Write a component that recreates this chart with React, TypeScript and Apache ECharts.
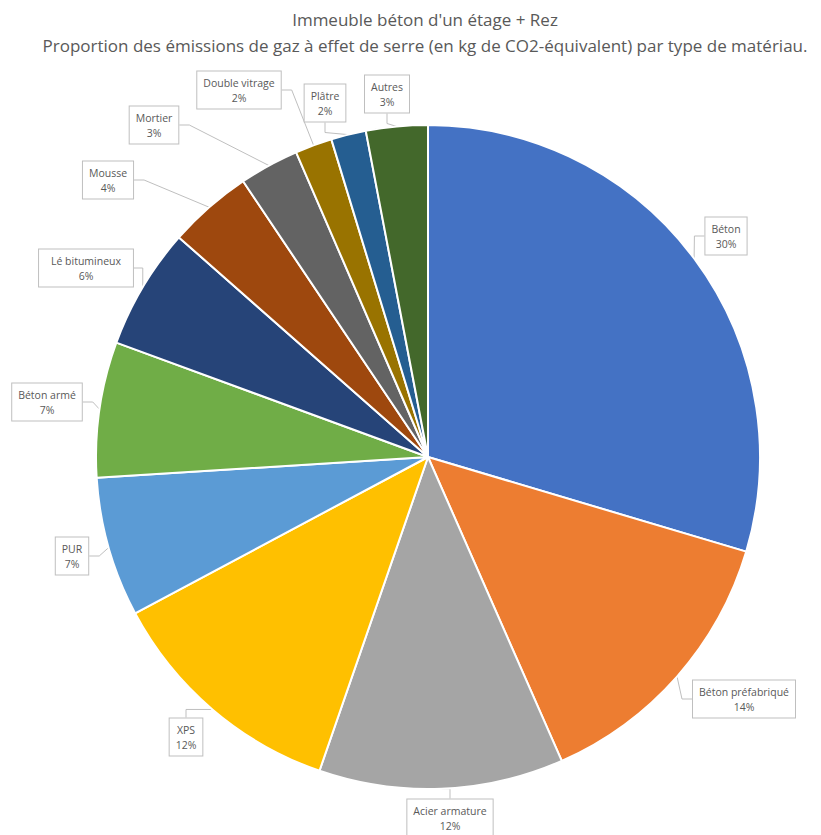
import React, { useEffect, useRef } from "react";
import * as echarts from "echarts";

const categories = [
  "Béton",
  "Béton préfabriqué",
  "Acier armature",
  "XPS",
  "PUR",
  "Béton armé",
  "Lé bitumineux",
  "Mousse",
  "Mortier",
  "Double vitrage",
  "Plâtre",
  "Autres",
];
const values = [29.6, 13.8, 11.9, 11.9, 6.8, 6.6, 5.9, 4.1, 2.9, 1.8, 1.7, 3.0];
const colors = [
  "#4472C4", "#ED7D31", "#A5A5A5", "#FFC000", "#5B9BD5", "#70AD47",
  "#264478", "#9E480E", "#636363", "#997300", "#255E91", "#43682B",
];
const titleLines = [
  "Immeuble béton d'un étage + Rez",
  "Proportion des émissions de gaz à effet de serre (en kg de CO2-équivalent) par type de matériau.",
];
// label box centres (layout only)
const labelPos: [number, number][] = [
  [726, 236], [744, 699], [450, 818], [186, 737], [72, 556], [47, 402],
  [86, 268], [108, 180], [154, 125], [239, 90], [325, 103], [387, 94],
];

export default function App() {
  const ref = useRef<HTMLDivElement>(null);
  useEffect(() => {
    document.body.style.margin = "0";
    if (!ref.current) return;
    const chart = echarts.init(ref.current, undefined, { renderer: "svg" });
    const total = values.reduce((a, b) => a + b, 0);
    chart.setOption({
      animation: false,
      backgroundColor: "#ffffff",
      title: {
        text: titleLines.join("\n"),
        left: 420,
        top: 1,
        textAlign: "center",
        textStyle: {
          fontFamily: "Open Sans",
          fontSize: 17,
          fontWeight: "normal",
          color: "#595959",
          lineHeight: 26,
        },
      },
      series: [
        {
          type: "pie",
          center: [428, 457],
          radius: 332,
          startAngle: 90,
          clockwise: true,
          color: colors,
          itemStyle: { borderColor: "#ffffff", borderWidth: 2 },
          data: categories.map((c, i) => ({ name: c, value: values[i] })),
          label: {
            show: true,
            position: "outside",
            formatter: (p: any) => `${p.name}\n${Math.round((p.value / total) * 100)}%`,
            fontFamily: "Open Sans",
            fontSize: 10.5,
            color: "#595959",
            lineHeight: 15,
            backgroundColor: "#ffffff",
            borderColor: "#BFBFBF",
            borderWidth: 1,
            padding: [4, 6, 3, 6],
            align: "center",
            overflow: "none",
          },
          labelLine: {
            show: true,
            length: 10,
            length2: 10,
            lineStyle: { color: "#BFBFBF", width: 1 },
          },
          labelLayout: (params: any) => {
            const pos = labelPos[params.dataIndex];
            return { x: pos[0], y: pos[1], align: "center", verticalAlign: "middle" };
          },
        },
      ],
    });
    return () => chart.dispose();
  }, []);
  return <div ref={ref} style={{ width: 821, height: 835 }} />;
}
